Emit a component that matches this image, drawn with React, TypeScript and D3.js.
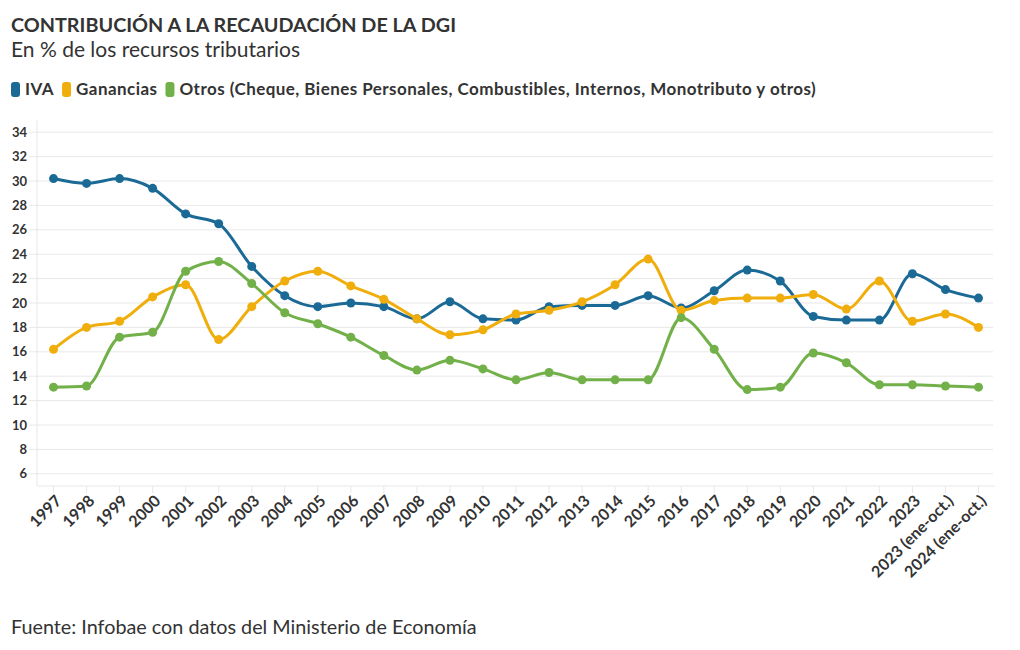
import React, { useEffect, useRef } from "react";
import * as d3 from "d3";

// data (% of tax resources)
const years = [
  "1997", "1998", "1999", "2000", "2001", "2002", "2003", "2004", "2005", "2006",
  "2007", "2008", "2009", "2010", "2011", "2012", "2013", "2014", "2015", "2016",
  "2017", "2018", "2019", "2020", "2021", "2022", "2023", "2023 (ene-oct.)", "2024 (ene-oct.)",
];

const iva = [
  30.2, 29.8, 30.2, 29.4, 27.3, 26.5, 23.0, 20.6, 19.7, 20.0,
  19.7, 18.7, 20.1, 18.7, 18.6, 19.7, 19.8, 19.8, 20.6, 19.6,
  21.0, 22.7, 21.8, 18.9, 18.6, 18.6, 22.4, 21.1, 20.4,
];

const ganancias = [
  16.2, 18.0, 18.5, 20.5, 21.5, 17.0, 19.7, 21.8, 22.6, 21.4,
  20.3, 18.7, 17.4, 17.8, 19.1, 19.4, 20.1, 21.5, 23.6, 19.4,
  20.2, 20.4, 20.4, 20.7, 19.5, 21.8, 18.5, 19.1, 18.0,
];

const otros = [
  13.1, 13.2, 17.2, 17.6, 22.6, 23.4, 21.6, 19.2, 18.3, 17.2,
  15.7, 14.5, 15.3, 14.6, 13.7, 14.3, 13.7, 13.7, 13.7, 18.8,
  16.2, 12.9, 13.1, 15.9, 15.1, 13.3, 13.3, 13.2, 13.1,
];

const yTicks = [6, 8, 10, 12, 14, 16, 18, 20, 22, 24, 26, 28, 30, 32, 34];

const seriesNames = [
  "IVA",
  "Ganancias",
  "Otros (Cheque, Bienes Personales, Combustibles, Internos, Monotributo y otros)",
];
const seriesColors = ["#1b6a96", "#f0ae0d", "#72b04a"];

const FONT = "Lato, 'Noto Sans', sans-serif";
const TEXT = "#333333";

const App = () => {
  const svgRef = useRef<SVGSVGElement>(null);

  useEffect(() => {
    if (!svgRef.current) return;
    const svg = d3.select(svgRef.current);
    svg.selectAll("*").remove();

    const width = 1020;
    const height = 650;
    const plot = { left: 37, right: 995, top: 120, bottom: 486 };

    svg.attr("width", width).attr("height", height).style("font-family", FONT);

    // header
    svg
      .append("text")
      .attr("x", 11)
      .attr("y", 32)
      .attr("fill", TEXT)
      .style("font-size", "19.8px")
      .style("font-weight", 700)
      .text("CONTRIBUCIÓN A LA RECAUDACIÓN DE LA DGI");

    svg
      .append("text")
      .attr("x", 11)
      .attr("y", 57)
      .attr("fill", TEXT)
      .style("font-size", "21px")
      .text("En % de los recursos tributarios");

    // legend
    const legend = svg.append("g").attr("transform", "translate(11,95)");
    let lx = 0;
    seriesNames.forEach((name, i) => {
      const g = legend.append("g").attr("transform", `translate(${lx},0)`);
      g.append("rect")
        .attr("x", 0)
        .attr("y", -13)
        .attr("width", 9)
        .attr("height", 15)
        .attr("rx", 3)
        .attr("fill", seriesColors[i]);
      const t = g
        .append("text")
        .attr("x", 14)
        .attr("y", 0)
        .attr("fill", TEXT)
        .style("font-size", "17px")
        .style("font-weight", 700)
        .style("letter-spacing", "0.45px")
        .text(name);
      const w = (t.node() as SVGTextElement).getComputedTextLength();
      lx += 14 + w + 8;
    });

    // scales
    const x = d3
      .scalePoint<string>()
      .domain(years)
      .range([plot.left, plot.right])
      .padding(0.5);

    const y = d3.scaleLinear().domain([5, 35]).range([plot.bottom, plot.top]);

    // grid
    const grid = svg.append("g");
    yTicks.forEach((t) => {
      grid
        .append("line")
        .attr("x1", plot.left - 8)
        .attr("x2", plot.right - 2)
        .attr("y1", y(t))
        .attr("y2", y(t))
        .attr("stroke", "#e8e8e8")
        .attr("stroke-width", 1);
      grid
        .append("text")
        .attr("x", 27)
        .attr("y", y(t))
        .attr("dy", "0.35em")
        .attr("text-anchor", "end")
        .attr("fill", TEXT)
        .style("font-size", "13px")
        .style("font-weight", 700)
        .text(t);
    });

    // frame: left and bottom
    svg
      .append("line")
      .attr("x1", plot.left)
      .attr("x2", plot.left)
      .attr("y1", plot.top)
      .attr("y2", plot.bottom)
      .attr("stroke", "#e8e8e8");
    svg
      .append("line")
      .attr("x1", plot.left)
      .attr("x2", plot.right)
      .attr("y1", plot.bottom)
      .attr("y2", plot.bottom)
      .attr("stroke", "#e8e8e8");

    // x axis ticks & labels
    const xAxis = svg.append("g");
    years.forEach((yr) => {
      const px = x(yr) as number;
      xAxis
        .append("line")
        .attr("x1", px)
        .attr("x2", px)
        .attr("y1", plot.bottom)
        .attr("y2", plot.bottom + 7)
        .attr("stroke", "#e8e8e8");
      xAxis
        .append("text")
        .attr("transform", `translate(${px + 5},${plot.bottom + 12}) rotate(-45)`)
        .attr("text-anchor", "end")
        .attr("dy", "0.35em")
        .attr("fill", TEXT)
        .style("font-size", "16px")
        .style("font-weight", 700)
        .text(yr);
    });

    // lines
    const allSeries = [iva, ganancias, otros];
    const line = d3
      .line<number>()
      .x((_, i) => x(years[i]) as number)
      .y((d) => y(d))
      .curve(d3.curveMonotoneX);

    allSeries.forEach((vals, si) => {
      const g = svg.append("g");
      g.append("path")
        .attr("d", line(vals))
        .attr("fill", "none")
        .attr("stroke", seriesColors[si])
        .attr("stroke-width", 3);
      g.selectAll("circle")
        .data(vals)
        .enter()
        .append("circle")
        .attr("cx", (_, i) => x(years[i]) as number)
        .attr("cy", (d) => y(d))
        .attr("r", 4.5)
        .attr("fill", seriesColors[si]);
    });

    // source
    svg
      .append("text")
      .attr("x", 11)
      .attr("y", 634)
      .attr("fill", TEXT)
      .style("font-size", "19.8px")
      .text("Fuente: Infobae con datos del Ministerio de Economía");
  }, []);

  return (
    <div style={{ width: 1020, height: 650, margin: -8 }}>
      <svg ref={svgRef} style={{ display: "block", background: "#fff" }}></svg>
    </div>
  );
};

export default App;
